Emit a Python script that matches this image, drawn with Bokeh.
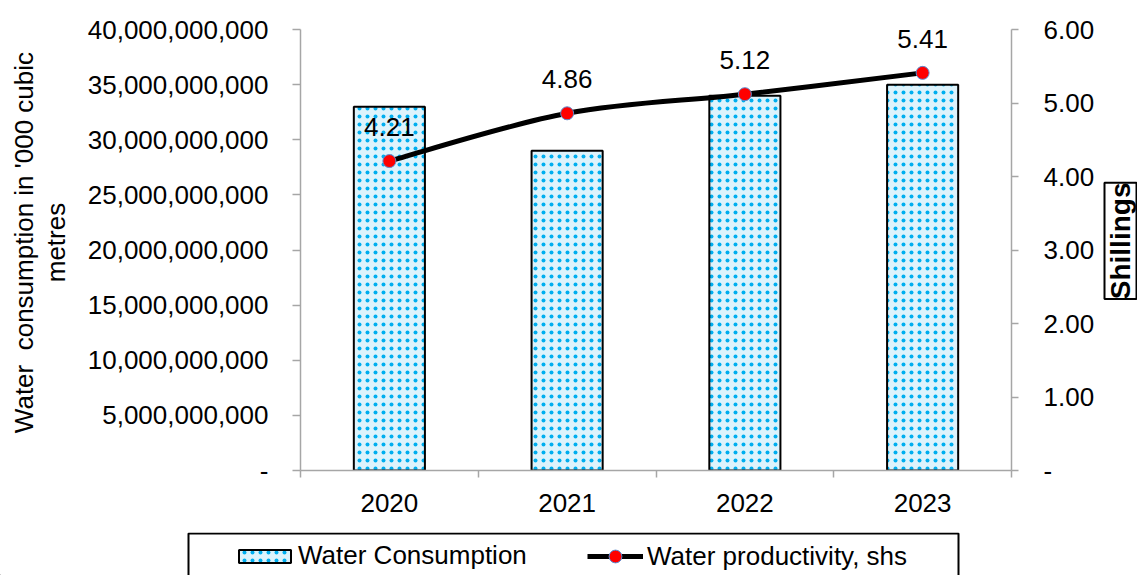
import numpy as np
from bokeh.plotting import figure
from bokeh.layouts import row, column
from bokeh.models import (Range1d, LinearAxis, FixedTicker, NumeralTickFormatter,
                          ColumnDataSource, LabelSet, Label, Legend, LegendItem,
                          BoxAnnotation)
from bokeh.core.properties import value
from bokeh.embed import file_html
from bokeh.resources import INLINE

# ---- data -------------------------------------------------------------
years = ["2020", "2021", "2022", "2023"]
water_consumption = [33.0e9, 29.0e9, 34.0e9, 35.0e9]      # '000 cubic metres
water_productivity = [4.21, 4.86, 5.12, 5.41]             # shillings
left_ticks = [0, 5e9, 10e9, 15e9, 20e9, 25e9, 30e9, 35e9, 40e9]
right_ticks = [0, 1, 2, 3, 4, 5, 6]

FONT = "Liberation Sans"
FS = "26px"
GREY = "#A6A6A6"
BLUE = "#00AEEF"

H_TOP = 532          # height of the chart row
W_TITLE = 75         # strip holding the left axis title
W_SIDE = 37          # strip holding the boxed right axis title

xpos = np.arange(len(years)) + 0.5
prod = np.array(water_productivity)

src = ColumnDataSource(dict(
    x=xpos,
    consumption=water_consumption,
    productivity=prod,
    prod_label=[f"{v:.2f}" for v in water_productivity],
))

bar_style = dict(fill_color="#DDF3FC", line_color="black", line_width=2,
                 hatch_pattern="dot", hatch_color=BLUE, hatch_scale=8,
                 hatch_weight=2)
line_style = dict(line_color="black", line_width=5)
dot_style = dict(fill_color="#FF0000", line_color="#5B8BD0", line_width=1)


def strip(width, height, x_end, y_end):
    """Axis-less figure whose data units equal pixels."""
    f = figure(width=width, height=height, x_range=Range1d(0, x_end),
               y_range=Range1d(0, y_end), output_backend="svg",
               toolbar_location=None, x_axis_location=None,
               y_axis_location=None, min_border=0)
    f.outline_line_color = None
    f.grid.visible = False
    return f


# ---- main chart ----------------------------------------------------------
p = figure(width=1025, height=H_TOP,
           x_range=Range1d(0, len(years)), y_range=Range1d(0, 40e9),
           output_backend="svg", toolbar_location=None,
           min_border_left=225, min_border_right=89,
           min_border_top=29, min_border_bottom=62)
p.extra_y_ranges = {"shs": Range1d(0, 6)}
p.outline_line_color = None
p.xgrid.visible = False
p.ygrid.visible = False

p.vbar(x="x", top="consumption", width=0.4, bottom=0, source=src, **bar_style)

# smoothed productivity line (cubic Bezier segments through the points)
n = len(prod)
i = np.arange(n - 1)
i_prev = np.maximum(i - 1, 0)
i_next2 = np.minimum(i + 2, n - 1)
seg = dict(
    x0=xpos[i], y0=prod[i], x1=xpos[i + 1], y1=prod[i + 1],
    cx0=xpos[i] + (xpos[i + 1] - xpos[i_prev]) / 6,
    cy0=prod[i] + (prod[i + 1] - prod[i_prev]) / 6,
    cx1=xpos[i + 1] - (xpos[i_next2] - xpos[i]) / 6,
    cy1=prod[i + 1] - (prod[i_next2] - prod[i]) / 6,
)
p.bezier(source=ColumnDataSource(seg), x0="x0", y0="y0", x1="x1", y1="y1",
         cx0="cx0", cy0="cy0", cx1="cx1", cy1="cy1",
         y_range_name="shs", **line_style)
p.scatter(x="x", y="productivity", source=src, size=13, y_range_name="shs", **dot_style)

p.add_layout(LabelSet(x="x", y="productivity", text="prod_label", source=src,
                      y_range_name="shs", text_align="center",
                      text_baseline="alphabetic", y_offset=25,
                      text_font=value(FONT), text_font_size=FS, text_color="black"))

xa = p.xaxis[0]
xa.ticker = FixedTicker(ticks=list(xpos), minor_ticks=list(range(len(years) + 1)))
xa.major_label_overrides = {float(xv): y for xv, y in zip(xpos, years)}
xa.major_tick_out = 0
xa.major_tick_in = 0
xa.minor_tick_out = 7
xa.minor_tick_in = 0
xa.major_label_standoff = 16

ya = p.yaxis[0]
ya.ticker = FixedTicker(ticks=left_ticks)
ya.formatter = NumeralTickFormatter(format="0,0")
ya.major_label_overrides = {0: "-"}
ya.major_label_standoff = 24
ya.major_tick_out = 8
ya.major_tick_in = 0
ya.minor_tick_out = 0
ya.minor_tick_in = 0

ra = LinearAxis(y_range_name="shs", ticker=FixedTicker(ticks=right_ticks),
                formatter=NumeralTickFormatter(format="0.00"),
                major_label_overrides={0: "-"},
                major_tick_out=7, major_tick_in=0,
                minor_tick_out=0, minor_tick_in=0,
                major_label_standoff=25)
p.add_layout(ra, "right")

for ax in (xa, ya, ra):
    ax.axis_line_color = GREY
    ax.axis_line_width = 1.5
    ax.major_tick_line_color = GREY
    ax.major_tick_line_width = 1.5
    ax.minor_tick_line_color = GREY
    ax.minor_tick_line_width = 1.5
    ax.major_label_text_font = FONT
    ax.major_label_text_font_size = FS
    ax.major_label_text_color = "black"

# ---- left axis title (two lines, reading upwards) -------------------------
title = strip(W_TITLE, H_TOP, W_TITLE, H_TOP)
title.add_layout(Label(x=39.5, y=H_TOP - 257,
                       text="Water\u00a0 consumption in '000 cubic\nmetres",
                       angle=np.pi / 2, text_align="center", text_baseline="middle",
                       text_font=FONT, text_font_size=FS, text_color="black",
                       text_line_height=1.05))

# ---- boxed title of the right axis -------------------------------------
side = strip(W_SIDE, H_TOP, W_SIDE, H_TOP)
side.add_layout(BoxAnnotation(left=4, right=36, top=H_TOP - 185, bottom=H_TOP - 325,
                              fill_alpha=0, line_color="black", line_alpha=1,
                              line_width=2))
side.add_layout(Label(x=20, y=H_TOP - 255, text="Shillings", angle=np.pi / 2,
                      text_align="center", text_baseline="middle",
                      text_font=FONT, text_font_size="28px", text_font_style="bold",
                      text_color="black"))

# ---- legend strip ----------------------------------------------------------
leg = strip(1137, 43, 1137, 43)
offscreen = ColumnDataSource(dict(x=[-1000], y=[-1000]))
leg_bar = leg.vbar(x="x", top="y", width=1, source=offscreen, **bar_style)
leg_line = leg.line(x="x", y="y", source=offscreen, **line_style)
leg_dot = leg.scatter(x="x", y="y", source=offscreen, **dot_style)

common = dict(orientation="horizontal", padding=0, margin=0, spacing=0,
              border_line_color=None, background_fill_alpha=0,
              label_text_font=FONT, label_text_font_size=FS,
              label_text_color="black")
leg.add_layout(Legend(items=[LegendItem(label="Water Consumption", renderers=[leg_bar])],
                      location=(232, 4), glyph_width=65, glyph_height=16,
                      label_standoff=1, **common))
leg.add_layout(Legend(items=[LegendItem(label="Water productivity, shs",
                                        renderers=[leg_line, leg_dot])],
                      location=(587, 3), glyph_width=56, glyph_height=32,
                      label_standoff=4, **common))
leg.add_layout(BoxAnnotation(left=188, right=958, top=42, bottom=-5,
                             fill_alpha=0, line_color="black", line_alpha=1,
                             line_width=2))

layout = column(row(title, p, side, spacing=0), leg, spacing=0)
open("out.html", "w").write(file_html(layout, INLINE))
